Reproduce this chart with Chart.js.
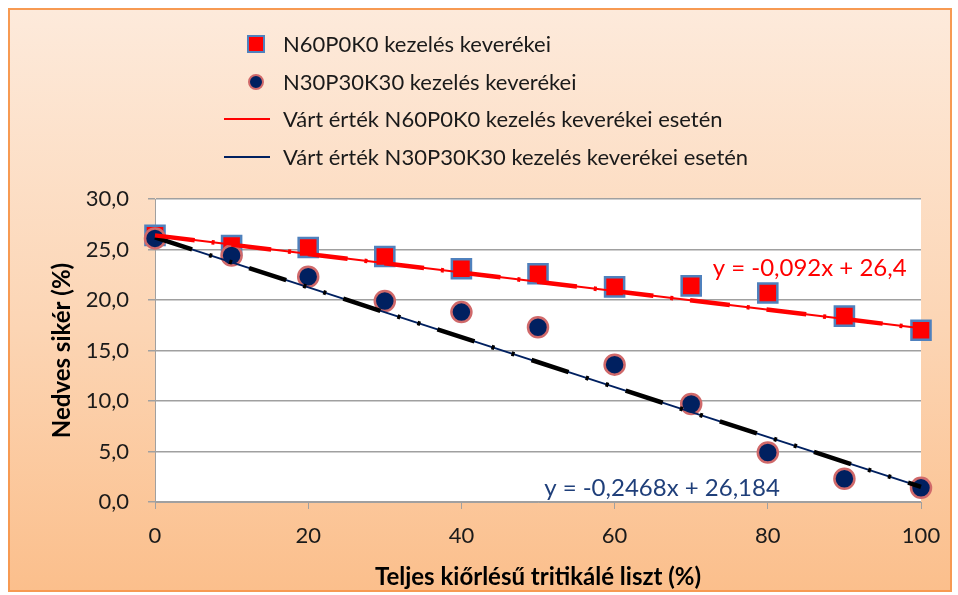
<!DOCTYPE html>
<html>
<head>
<meta charset="utf-8">
<script src="https://cdn.jsdelivr.net/npm/chart.js@4/dist/chart.umd.min.js"></script>
<style>
    html, body { margin: 0; padding: 0; background: #ffffff; }
    #wrap { position: relative; width: 958px; height: 595px; overflow: hidden; }
    #frame {
        position: absolute; left: 8px; top: 8px; width: 940px; height: 580px;
        border: 2px solid #f79a52;
        background: linear-gradient(to bottom, #fdeadb 0%, #fcd5b4 55%, #fbbf8c 100%);
    }
    #chart { position: absolute; left: 0; top: 0; }
    #legend { position: absolute; left: 222px; top: 27px; font-family: Lato, sans-serif; font-size: 22px; color: #1a1a1a; }
    .item { position: relative; height: 37.5px; line-height: 34px; padding-left: 61px; white-space: nowrap; }
    .mark { position: absolute; }
</style>
</head>
<body>
<div id="wrap">
    <div id="frame"></div>
    <canvas id="chart" width="958" height="595"></canvas>
    <div id="legend"></div>
</div>
<script>
const xValues = [0, 10, 20, 30, 40, 50, 60, 70, 80, 90, 100];
const n60p0k0 = [26.4, 25.4, 25.2, 24.3, 23.1, 22.6, 21.3, 21.4, 20.7, 18.4, 17.0];
const n30p30k30 = [26.1, 24.4, 22.3, 19.9, 18.8, 17.3, 13.6, 9.7, 4.9, 2.3, 1.4];

// Expected value lines (end points)
const expectedX = [0, 100];
const expectedN60 = [26.4, 17.2];
const expectedN30 = [26.2, 1.5];

const yTicks = [0, 5, 10, 15, 20, 25, 30];
const xTicks = [0, 20, 40, 60, 80, 100];

const labels = [
    'N60P0K0 kezelés keverékei',
    'N30P30K30 kezelés keverékei',
    'Várt érték N60P0K0 kezelés keverékei esetén',
    'Várt érték N30P30K30 kezelés keverékei esetén'
];
const equations = ['y = -0,092x + 26,4', 'y = -0,2468x + 26,184'];

const RED = '#ff0000';
const NAVY = '#002060';
const EQ_NAVY = '#1f3f7a';
const FONT = 'Lato, sans-serif';

function pts(xs, ys) {
    return xs.map((x, i) => ({ x: x, y: ys[i] }));
}

// White plot area
const plotBackground = {
    id: 'plotBackground',
    beforeDraw(chart) {
        const a = chart.chartArea;
        const ctx = chart.ctx;
        ctx.save();
        ctx.fillStyle = '#ffffff';
        ctx.fillRect(a.left, a.top, a.right - a.left, a.bottom - a.top);
        ctx.restore();
    }
};

// Trend line equations
const equationLabels = {
    id: 'equationLabels',
    afterDatasetsDraw(chart) {
        const ctx = chart.ctx;
        const xs = chart.scales.x;
        const ys = chart.scales.y;
        ctx.save();
        ctx.font = '24px ' + FONT;
        ctx.textBaseline = 'middle';
        ctx.textAlign = 'left';
        ctx.fillStyle = RED;
        ctx.fillText(equations[0], xs.getPixelForValue(72.8), ys.getPixelForValue(23.1));
        ctx.fillStyle = EQ_NAVY;
        ctx.fillText(equations[1], xs.getPixelForValue(50.8), ys.getPixelForValue(1.4));
        ctx.restore();
    }
};

const chart = new Chart(document.getElementById('chart'), {
    type: 'scatter',
    data: {
        datasets: [
            {
                label: 'trend N60',
                type: 'line',
                data: pts(expectedX, expectedN60),
                borderColor: RED,
                borderWidth: 4.5,
                borderDash: [40, 17, 3, 17],
                borderCapStyle: 'butt',
                pointRadius: 0,
                fill: false,
                clip: false,
                order: 0
            },
            {
                label: 'trend N30',
                type: 'line',
                data: pts(expectedX, expectedN30),
                borderColor: '#000000',
                borderWidth: 4.5,
                borderDash: [39, 18, 3, 18, 3, 18],
                borderCapStyle: 'butt',
                pointRadius: 0,
                fill: false,
                clip: false,
                order: 0
            },
            {
                label: labels[2],
                type: 'line',
                data: pts(expectedX, expectedN60),
                borderColor: RED,
                borderWidth: 2,
                pointRadius: 0,
                fill: false,
                clip: false,
                order: 1
            },
            {
                label: labels[3],
                type: 'line',
                data: pts(expectedX, expectedN30),
                borderColor: NAVY,
                borderWidth: 2,
                pointRadius: 0,
                fill: false,
                clip: false,
                order: 1
            },
            {
                label: labels[0],
                data: pts(xValues, n60p0k0),
                pointStyle: 'rect',
                pointRadius: 13.5,
                pointHoverRadius: 13.5,
                backgroundColor: RED,
                borderColor: '#4f81bd',
                borderWidth: 2.5,
                clip: false,
                order: 3
            },
            {
                label: labels[1],
                data: pts(xValues, n30p30k30),
                pointStyle: 'circle',
                pointRadius: 10,
                pointHoverRadius: 10,
                backgroundColor: NAVY,
                borderColor: '#d0696a',
                borderWidth: 2.5,
                clip: false,
                order: 2
            }
        ]
    },
    options: {
        responsive: false,
        animation: false,
        layout: { padding: { top: 199, right: 37, bottom: 0, left: 0 } },
        plugins: {
            legend: { display: false },
            tooltip: { enabled: false }
        },
        scales: {
            x: {
                type: 'linear',
                min: 0,
                max: 100,
                afterBuildTicks(scale) { scale.ticks = xTicks.map(v => ({ value: v })); },
                afterFit(scale) { scale.height = 93; },
                ticks: { font: { family: FONT, size: 22 }, color: '#1a1a1a', padding: 14 },
                grid: { drawOnChartArea: false, drawTicks: true, tickLength: 7, color: '#a0a0a0' },
                border: { display: true, color: '#a0a0a0' },
                title: {
                    display: true,
                    text: 'Teljes kiőrlésű tritikálé liszt (%)',
                    font: { family: FONT, size: 24, weight: 'bold' },
                    color: '#000000',
                    padding: { top: 0, bottom: 3 }
                }
            },
            y: {
                min: 0,
                max: 30,
                afterBuildTicks(scale) { scale.ticks = yTicks.map(v => ({ value: v })); },
                afterFit(scale) { scale.width = 155; },
                ticks: {
                    font: { family: FONT, size: 22 },
                    color: '#1a1a1a',
                    padding: 19,
                    callback: v => v.toFixed(1).replace('.', ',')
                },
                grid: { color: '#a0a0a0', tickLength: 7, lineWidth: 1.5 },
                border: { display: true, color: '#a0a0a0' },
                title: {
                    display: true,
                    text: 'Nedves sikér (%)',
                    font: { family: FONT, size: 24, weight: 'bold' },
                    color: '#000000',
                    padding: { top: 48, bottom: 0 }
                }
            }
        }
    },
    plugins: [plotBackground, equationLabels]
});

// Legend in the upper part, one entry per row
const legend = document.getElementById('legend');
const legendMarks = [
    '<span class="mark" style="left:25px;top:8px;width:14px;height:14px;background:#ff0000;border:2px solid #4f81bd;"></span>',
    '<span class="mark" style="left:26px;top:9px;width:12px;height:12px;border-radius:50%;background:#002060;border:2px solid #d0696a;"></span>',
    '<span class="mark" style="left:2px;top:16px;width:46px;height:2px;background:#ff0000;"></span>',
    '<span class="mark" style="left:2px;top:16px;width:46px;height:2px;background:#002060;"></span>'
];
legend.innerHTML = labels.map((t, i) => '<div class="item">' + legendMarks[i] + t + '</div>').join('');
</script>
</body>
</html>
